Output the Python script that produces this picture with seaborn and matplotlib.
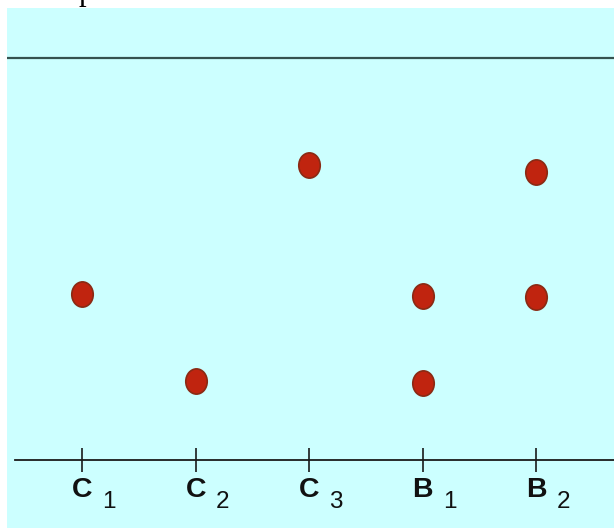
import matplotlib
matplotlib.use("Agg")
import matplotlib.pyplot as plt
import seaborn as sns
from matplotlib.path import Path
from matplotlib.transforms import Affine2D, offset_copy

# groups along the axis, as letter + subscript
letters = ["C", "C", "C", "B", "B"]
subscripts = ["1", "2", "3", "1", "2"]
groups = [l + s for l, s in zip(letters, subscripts)]

# points (group, level)
point_groups = ["C1", "C2", "C3", "B1", "B1", "B2", "B2"]
point_values = [1.65, 0.79, 2.94, 1.63, 0.77, 2.87, 1.62]

sns.set_theme(style="white")
plt.rcParams['font.family'] = ['Liberation Sans', 'DejaVu Sans']

fig = plt.figure(figsize=(6.14, 5.28), dpi=100)
fig.patch.set_facecolor("white")
ax = fig.add_axes([7 / 614, 0, 607 / 614, 520 / 528])
ax.set_facecolor("#ccffff")

# slightly tall oval dots
oval = Affine2D().scale(0.85, 1.0).transform_path(Path.unit_circle())
sns.scatterplot(x=point_groups, y=point_values, ax=ax, marker=oval, s=330,
                color="#c0240f", edgecolor="#8a2a14", linewidth=1.2, legend=False)

ax.set_xlim(-0.6626, 4.6855)
ax.set_ylim(-0.677, 4.501)

ax.axhline(4, color="#35524f", linewidth=1.6)

for side in ["top", "left", "right"]:
    ax.spines[side].set_visible(False)
ax.spines["bottom"].set_position(("data", 0))
ax.spines["bottom"].set_bounds(-0.592, 4.6855)
ax.spines["bottom"].set_color("#1a1a1a")
ax.spines["bottom"].set_linewidth(1.3)

ax.set_yticks([])
ax.set_xticks(range(len(groups)))
ax.set_xticklabels(letters, fontsize=20.5, fontweight="bold", color="#111111")
ax.tick_params(axis="x", direction="inout", length=17, width=1.2,
               color="#1a1a1a", pad=4, bottom=True)
ax.set_xlabel("")
ax.set_ylabel("")

# subscripts next to each letter
for i, sub in enumerate(subscripts):
    tr = offset_copy(ax.transData, fig=fig, x=27, y=-48, units="dots")
    ax.text(i, 0, sub, transform=tr, fontsize=17.5, ha="center", va="baseline",
            color="#111111")

# cut-off letter from the line of text above the figure
fig.text(79 / 614, 1.0, "p", fontsize=22, family="Liberation Serif",
         ha="left", va="baseline", color="black")

fig.savefig("out.png", dpi=100, facecolor=fig.get_facecolor())
